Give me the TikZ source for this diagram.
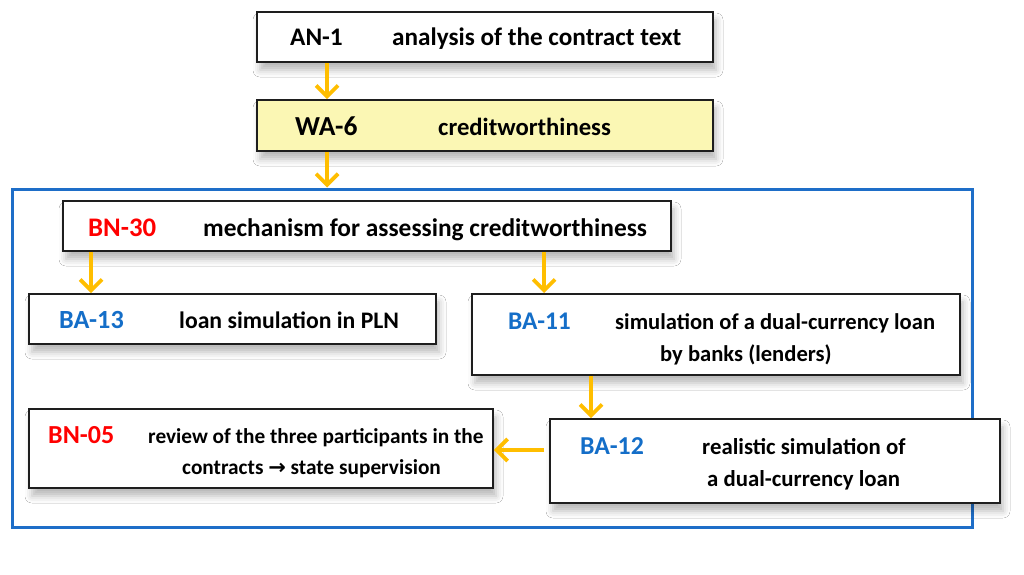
\documentclass[tikz,border=0pt]{standalone}
\usepackage{fontspec}
\setmainfont{Carlito}
\newfontfamily\arrowfont{DejaVu Sans}
\usetikzlibrary{arrows.meta,shadows.blur}
\definecolor{arrowc}{RGB}{255,190,0}
\definecolor{framec}{RGB}{30,110,200}
\definecolor{codeblue}{RGB}{20,110,200}
\definecolor{codered}{RGB}{255,0,0}
\definecolor{paleyellow}{RGB}{251,247,180}
\definecolor{boxline}{RGB}{30,30,30}
\begin{document}
\begin{tikzpicture}[x=1pt,y=-1pt,
  box/.style={draw=boxline,line width=1.8pt,fill=white,inner sep=0pt,
    blur shadow={shadow xshift=3pt,shadow yshift=-8pt,shadow blur radius=7pt,shadow opacity=28}},
  framebox/.style={draw=framec,line width=3pt,inner sep=0pt},
  txt/.style={anchor=base west,inner sep=0pt,font=\fontsize{#1}{#1}\selectfont\bfseries},
  arr/.style={draw=arrowc,line width=3.8pt,-{Straight Barb[length=11pt,width=22pt,line width=3.8pt]}}]
\useasboundingbox[fill=white] (0,0) rectangle (1024,574);
% frame
\node[framebox,minimum width=960pt,minimum height=338pt] (frame) at (492,358) {};
% boxes
\node[box,minimum width=456pt,minimum height=50pt] (an1) at (485,37) {};
\node[box,fill=paleyellow,minimum width=456pt,minimum height=51pt] (wa6) at (485,125.5) {};
\node[box,minimum width=608pt,minimum height=50pt] (bn30) at (367,226) {};
\node[box,minimum width=407pt,minimum height=50pt] (ba13) at (232.5,319) {};
\node[box,minimum width=488pt,minimum height=81pt] (ba11) at (716,334.5) {};
\node[box,minimum width=450pt,minimum height=84pt] (ba12) at (775,461) {};
\node[box,minimum width=464pt,minimum height=79pt] (bn05) at (261,448.5) {};
% texts
\node[txt=25.3] (t-an1c) at (290,45.5) {AN-1};
\node[txt=25.2] (t-an1d) at (392,45.5) {analysis of the contract text};
\node[txt=27.5] (t-wa6c) at (295,135) {WA-6};
\node[txt=24.7] (t-wa6d) at (438,135) {creditworthiness};
\node[txt=26.8,text=codered] (t-bn30c) at (88,236) {BN-30};
\node[txt=25.4] (t-bn30d) at (203,236) {mechanism for assessing creditworthiness};
\node[txt=26.2,text=codeblue] (t-ba13c) at (59,328) {BA-13};
\node[txt=23.7] (t-ba13d) at (179,328) {loan simulation in PLN};
\node[txt=25.4,text=codeblue] (t-ba11c) at (508,329) {BA-11};
\node[txt=22.6] (t-ba11d1) at (615,329) {simulation of a dual-currency loan};
\node[txt=22.6] (t-ba11d2) at (660,361) {by banks (lenders)};
\node[txt=25.8,text=codeblue] (t-ba12c) at (580,454) {BA-12};
\node[txt=22.8] (t-ba12d1) at (702,454) {realistic simulation of};
\node[txt=22.8] (t-ba12d2) at (707,486) {a dual-currency loan};
\node[txt=26,text=codered] (t-bn05c) at (48,443) {BN-05};
\node[txt=21.3] (t-bn05d1) at (148,443) {review of the three participants in the};
\node[txt=21.3] (t-bn05d2) at (182,474) {contracts {\arrowfont\fontsize{21}{21}\selectfont\bfseries →} state supervision};
% arrows
\draw[arr] ([xshift=71pt]an1.south west) -- ([xshift=71pt]wa6.north west);
\draw[arr] ([xshift=71pt]wa6.south west) -- ([xshift=71pt]wa6.south west |- frame.north);
\draw[arr] ([xshift=29pt]bn30.south west) -- ([xshift=29pt]bn30.south west |- ba13.north);
\draw[arr] ([xshift=482pt]bn30.south west) -- ([xshift=482pt]bn30.south west |- ba11.north);
\draw[arr] ([xshift=120pt]ba11.south west) -- ([xshift=120pt]ba11.south west |- ba12.north);
\draw[arr] ([xshift=-5pt,yshift=11pt]ba12.west) -- ([yshift=11pt]ba12.west -| bn05.east);
\end{tikzpicture}
\end{document}
